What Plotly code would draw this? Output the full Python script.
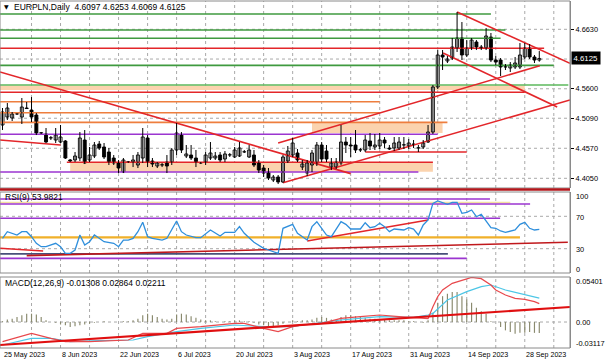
import plotly.graph_objects as go

# ---------------- data ----------------
tick_idx = [0, 12, 24, 36, 48, 60, 72, 84, 96, 108]
tick_text = ["25 May 2023", "8 Jun 2023", "22 Jun 2023", "6 Jul 2023", "20 Jul 2023",
             "3 Aug 2023", "17 Aug 2023", "31 Aug 2023", "14 Sep 2023", "28 Sep 2023"]

opens = [4.4973, 4.5111, 4.5094, 4.5163, 4.5111, 4.5267, 4.5232, 4.5146, 4.4834, 4.4817,
         4.4748, 4.4713, 4.4678, 4.4696, 4.4367, 4.4367, 4.4401, 4.4713, 4.4367, 4.4436,
         4.4644, 4.4592, 4.4505, 4.4401, 4.4315, 4.4159, 4.4332, 4.4332, 4.4280, 4.4401,
         4.4748, 4.4349, 4.4263, 4.4280, 4.4332, 4.4332, 4.4540, 4.4799, 4.4436, 4.4453,
         4.4401, 4.4315, 4.4332, 4.4401, 4.4401, 4.4453, 4.4384, 4.4453, 4.4419, 4.4436,
         4.4505, 4.4419, 4.4453, 4.4315, 4.4228, 4.4159, 4.4020, 4.4072, 4.3986, 4.4349,
         4.4453, 4.4488, 4.4245, 4.4141, 4.4280, 4.4315, 4.4626, 4.4522, 4.4245, 4.4245,
         4.4315, 4.4678, 4.4626, 4.4626, 4.4540, 4.4540, 4.4696, 4.4592, 4.4609, 4.4713,
         4.4574, 4.4574, 4.4574, 4.4626, 4.4609, 4.4644, 4.4574, 4.4592, 4.4678, 4.4851,
         4.5631, 4.6185, 4.6081, 4.6133, 4.6306, 4.6479, 4.6185, 4.6306, 4.6410, 4.6323,
         4.6306, 4.6496, 4.6098, 4.6098, 4.5977, 4.5960, 4.5977, 4.5977, 4.6150, 4.6306,
         4.6150, 4.6097]
highs = [4.5267, 4.5354, 4.5198, 4.5180, 4.5440, 4.5371, 4.5457, 4.5180, 4.4851, 4.4921,
         4.4782, 4.4921, 4.4973, 4.4713, 4.4384, 4.4505, 4.4851, 4.4886, 4.4592, 4.4678,
         4.4696, 4.4661, 4.4574, 4.4453, 4.4367, 4.4401, 4.4349, 4.4453, 4.4505, 4.4921,
         4.4799, 4.4401, 4.4332, 4.4315, 4.4453, 4.4574, 4.5007, 4.4851, 4.4626, 4.4626,
         4.4540, 4.4332, 4.4505, 4.4678, 4.4505, 4.4505, 4.4522, 4.4488, 4.4592, 4.4678,
         4.4540, 4.4626, 4.4540, 4.4367, 4.4280, 4.4228, 4.4107, 4.4107, 4.4453, 4.4609,
         4.4748, 4.4557, 4.4367, 4.4367, 4.4540, 4.4678, 4.4678, 4.4626, 4.4401, 4.4401,
         4.4973, 4.4765, 4.4765, 4.4886, 4.4574, 4.4799, 4.4834, 4.4817, 4.4834, 4.4765,
         4.4626, 4.4765, 4.4765, 4.4765, 4.4730, 4.4713, 4.4626, 4.4713, 4.4973, 4.5665,
         4.6271, 4.6271, 4.6167, 4.6479, 4.6929, 4.6756, 4.6444, 4.6479, 4.6444, 4.6358,
         4.6652, 4.6566, 4.6167, 4.6133, 4.6029, 4.6063, 4.6150, 4.6392, 4.6392, 4.6375,
         4.6185, 4.6253]
lows = [4.4886, 4.5059, 4.5042, 4.5146, 4.4990, 4.5250, 4.5025, 4.4799, 4.4817, 4.4661,
        4.4713, 4.4661, 4.4661, 4.4384, 4.4332, 4.4332, 4.4349, 4.4297, 4.4332, 4.4401,
        4.4540, 4.4384, 4.4280, 4.4280, 4.4141, 4.4141, 4.4315, 4.4245, 4.4228, 4.4315,
        4.4245, 4.4245, 4.4228, 4.4245, 4.4141, 4.4280, 4.4453, 4.4488, 4.4401, 4.4367,
        4.4245, 4.4297, 4.4280, 4.4367, 4.4367, 4.4332, 4.4332, 4.4419, 4.4401, 4.4419,
        4.4488, 4.4401, 4.4245, 4.4141, 4.4072, 4.4020, 4.3986, 4.3951, 4.3968, 4.4315,
        4.4419, 4.4332, 4.4193, 4.4090, 4.4159, 4.4263, 4.4332, 4.4332, 4.4193, 4.4211,
        4.4280, 4.4488, 4.4419, 4.4488, 4.4505, 4.4505, 4.4540, 4.4540, 4.4557, 4.4574,
        4.4540, 4.4522, 4.4540, 4.4557, 4.4557, 4.4574, 4.4505, 4.4557, 4.4661, 4.4817,
        4.5596, 4.5925, 4.6046, 4.6098, 4.6237, 4.6098, 4.6150, 4.6271, 4.6271, 4.6271,
        4.6271, 4.6063, 4.6012, 4.5821, 4.5925, 4.5890, 4.5942, 4.5942, 4.6115, 4.6115,
        4.6046, 4.6069]
closes = [4.5198, 4.5267, 4.5163, 4.5163, 4.5284, 4.5258, 4.5111, 4.4834, 4.4834, 4.4678,
          4.4748, 4.4799, 4.4765, 4.4401, 4.4349, 4.4436, 4.4748, 4.4315, 4.4453, 4.4626,
          4.4574, 4.4419, 4.4332, 4.4315, 4.4228, 4.4367, 4.4332, 4.4367, 4.4453, 4.4765,
          4.4332, 4.4297, 4.4315, 4.4280, 4.4263, 4.4540, 4.4834, 4.4540, 4.4471, 4.4401,
          4.4332, 4.4315, 4.4453, 4.4488, 4.4436, 4.4367, 4.4471, 4.4453, 4.4540, 4.4574,
          4.4505, 4.4540, 4.4280, 4.4193, 4.4141, 4.4055, 4.4072, 4.3986, 4.4419, 4.4522,
          4.4661, 4.4367, 4.4297, 4.4315, 4.4488, 4.4626, 4.4384, 4.4384, 4.4315, 4.4332,
          4.4678, 4.4626, 4.4609, 4.4540, 4.4540, 4.4713, 4.4609, 4.4626, 4.4713, 4.4661,
          4.4557, 4.4661, 4.4678, 4.4626, 4.4661, 4.4635, 4.4574, 4.4661, 4.4851, 4.5631,
          4.6185, 4.6150, 4.6115, 4.6323, 4.6479, 4.6185, 4.6306, 4.6444, 4.6323, 4.6306,
          4.6514, 4.6098, 4.6063, 4.5977, 4.5977, 4.6012, 4.6046, 4.6185, 4.6306, 4.6150,
          4.6098, 4.6125]

rsi_idx = [0, 1, 3, 4, 5, 6, 7, 8, 9, 11, 12, 13, 14, 15, 16, 17, 18, 19, 20, 21,
           23, 24, 25, 26, 27, 28, 29, 30, 31, 33, 34, 35, 36, 37, 38, 40, 41, 43, 45, 46,
           48, 49, 50, 52, 54, 55, 57, 58, 60, 61, 63, 64, 65, 66, 67, 68, 70, 71, 72, 74,
           75, 76, 77, 78, 79, 80, 81, 83, 84, 85, 86, 87, 88, 89, 90, 92, 93, 94, 95, 96,
           97, 98, 99, 101, 102, 103, 104, 106, 107, 108, 109, 110, 111]
rsi_val = [42.8, 51.0, 46.9, 51.0, 51.0, 44.8, 36.7, 32.5, 32.5, 36.7, 32.5, 24.3, 24.3, 28.4, 46.9, 34.6, 38.6, 46.9, 42.8, 38.6,
           36.7, 32.5, 40.7, 40.7, 42.8, 51.0, 62.6, 44.8, 42.8, 40.7, 42.8, 53.1, 64.2, 51.0, 46.9, 43.6, 43.6, 53.1, 45.7, 50.2,
           50.2, 57.2, 49.0, 37.9, 30.5, 28.4, 24.3, 55.2, 60.1, 49.0, 40.7, 57.2, 63.3, 55.2, 46.9, 44.8, 63.3, 60.1, 54.3, 54.3,
           62.1, 55.9, 57.2, 61.4, 57.2, 51.0, 54.3, 53.1, 55.9, 54.3, 46.9, 59.3, 65.4, 86.0, 88.9, 84.8, 87.3, 87.3, 73.7, 74.9,
           77.8, 69.5, 72.5, 55.9, 55.2, 51.9, 50.2, 53.1, 60.1, 62.6, 55.2, 53.1, 53.98]

macd_hist = [0.001, 0.003, 0.004, 0.006, 0.008, 0.010, 0.010, 0.009, 0.006, 0.002,
             0.000, -0.001, -0.003, -0.004, -0.006, -0.005, -0.004, -0.003, -0.002, -0.001,
             0.000, 0.001, 0.000, 0.000, 0.000, 0.001, 0.001, 0.002, 0.004, 0.008,
             0.010, 0.008, 0.006, 0.004, 0.003, 0.004, 0.009, 0.010, 0.009, 0.007,
             0.005, 0.003, 0.002, 0.002, 0.001, 0.000, 0.001, 0.001, 0.002, 0.002,
             0.001, 0.001, -0.001, -0.003, -0.004, -0.005, -0.005, -0.004, -0.002, 0.000,
             0.002, 0.001, 0.002, 0.002, 0.003, 0.005, 0.006, 0.005, 0.003, 0.002,
             0.006, 0.008, 0.008, 0.007, 0.006, 0.005, 0.004, 0.004, 0.004, 0.003,
             0.002, 0.002, 0.002, 0.002, 0.001, 0.001, 0.000, -0.001, 0.002, 0.011,
             0.023, 0.031, 0.034, 0.036, 0.036, 0.031, 0.027, 0.023, 0.017, 0.013,
             0.010, 0.001, 0.000, -0.006, -0.010, -0.012, -0.014, -0.013, -0.013, -0.012,
             -0.013, -0.01308]
macd_idx = [0, 6, 10, 13, 18, 26, 29, 34, 36, 41, 48, 50, 54, 57, 60, 62, 66, 70, 74, 78,
            82, 85, 88, 89, 90, 91, 93, 95, 97, 99, 101, 102, 104, 106, 108, 110, 111]
macd_val = [-0.0236, -0.0136, -0.0196, -0.0236, -0.0236, -0.0216, -0.0136, -0.0136, -0.0076, -0.0056,
            -0.0016, -0.0016, -0.0076, -0.0116, -0.0056, -0.0036, -0.0016, 0.0044, 0.0064, 0.0084,
            0.0064, 0.0052, 0.0040, 0.0184, 0.0304, 0.0384, 0.0464, 0.0500, 0.0535, 0.0520,
            0.0444, 0.0384, 0.0324, 0.0284, 0.0272, 0.0244, 0.02211]
signal_idx = [0, 6, 10, 14, 20, 27, 30, 36, 41, 48, 54, 60, 62, 70, 78, 85, 88, 89, 92, 96,
              99, 101, 104, 107, 110, 111]
signal_val = [-0.0276, -0.0196, -0.0196, -0.0236, -0.0224, -0.0216, -0.0176, -0.0116, -0.0076, -0.0036,
              -0.0056, -0.0056, -0.0036, 0.0024, 0.0064, 0.0056, 0.0084, 0.0104, 0.0264, 0.0364,
              0.0424, 0.0444, 0.0384, 0.0344, 0.0304, 0.02864]

# chart objects drawn on the price window
hl_price = [4.6895, 4.6618, 4.6474, 4.6301, 4.6006, 4.5665, 4.5539, 4.5376, 4.5186, 4.5019,
            4.4812, 4.4505, 4.4327, 4.4159]
hl_start = [-0.52, -0.52, -0.52, -0.52, -0.52, -0.52, -0.52, -0.52, -0.52, -0.52,
            -0.52, 75, 13.3, -0.52]
hl_end = [101, 104, 103, 112, 114, 117, 108, 78, 78, 92, 90, 96, 89, 86]
hl_kind = ["green", "green", "green", "red", "green", "lgreen", "red", "orange", "orange", "orange",
           "purple", "red", "red", "purple"]

zone_lo = [4.5579, 4.4834, 4.4164]
zone_hi = [4.5657, 4.5016, 4.4327]
zone_start = [-0.52, 64, 14]
zone_end = [108, 91, 89]

tl_x0 = [-0.52, -0.52, 57, 91.1, 94, 58]
tl_p0 = [4.5890, 4.4713, 4.4661, 4.6219, 4.6929, 4.3974]
tl_x1 = [72, 12, 111.1, 114.7, 117.35, 117.35]
tl_p1 = [4.4131, 4.4626, 4.5999, 4.5284, 4.6041, 4.5406]

# objects on the RSI window
rsi_lvl = [87.0, 91.4, 85.2, 67.5, 44.1, 23.5, 18.1]
rsi_lvl_end = [105, 100.8, 109.1, 102.9, 107, 92.1, 96]
rsi_lvl_kind = ["wheat", "purple", "purple", "purple", "gold", "navy", "purple"]
rsi_tl_x0 = [-0.52, 5.0, 63]
rsi_tl_v0 = [30.5, 21.4, 39.5]
rsi_tl_x1 = [8.4, 116.9, 88]
rsi_tl_v1 = [27.2, 37.9, 65.4]
rsi_tl_kind = ["red", "dred", "red"]

# objects on the MACD window
macd_tl = [(-0.52, -0.0276), (117.35, 0.0180)]

# ---------------- style ----------------
W, H = 605, 363
ML, MR, MT, MB = 0, 35, 0, 15
PH = H - MT - MB  # 348
FONT = "Liberation Sans, Arial, sans-serif"
FS = 7.4
FT = 8.5   # indicator / symbol titles

def yp(py):
    return 1 - py / PH

main_dom = [yp(188), yp(1)]
rsi_dom = [yp(273), yp(192)]
macd_dom = [0, yp(277)]
XR = [-0.517, 117.35]

colors = {"green": "#3f9a3f", "lgreen": "#5cb85c", "red": "#e3262a", "orange": "#ee7e3e",
          "purple": "#9b35d0", "wheat": "#f3dfa0", "gold": "#f0b02a", "navy": "#48507a",
          "dred": "#c0181c"}
widths = {"green": 1.6, "lgreen": 1.6, "red": 1.6, "orange": 1.6, "purple": 1.6,
          "wheat": 1.6, "gold": 2.2, "navy": 1.8, "dred": 1.6}

fig = go.Figure()
shapes = []

# dotted grids
grid_col = "#a9a9a9"
for k in range(1, 20):
    for dom in (main_dom, rsi_dom, macd_dom):
        shapes.append(dict(type="line", xref="x", yref="paper", x0=6 * k, x1=6 * k,
                           y0=dom[0], y1=dom[1], layer="below",
                           line=dict(color=grid_col, width=1, dash="dot")))
for p in [4.6630, 4.6115, 4.5600, 4.5090, 4.4570, 4.4050]:
    shapes.append(dict(type="line", xref="paper", yref="y", x0=0, x1=1, y0=p, y1=p, layer="below",
                       line=dict(color=grid_col, width=1, dash="dot")))
for v in [70, 30]:
    shapes.append(dict(type="line", xref="paper", yref="y2", x0=0, x1=1, y0=v, y1=v, layer="below",
                       line=dict(color=grid_col, width=1, dash="dot")))
shapes.append(dict(type="line", xref="paper", yref="y3", x0=0, x1=1, y0=0, y1=0, layer="below",
                   line=dict(color=grid_col, width=1, dash="dot")))

# zones
for lo, hi, s, e in zip(zone_lo, zone_hi, zone_start, zone_end):
    shapes.append(dict(type="rect", xref="x", yref="y", x0=s, x1=e, y0=lo, y1=hi, layer="below",
                       fillcolor="#fbd3ae", line=dict(width=0)))

# panel frames
for dom in (main_dom, rsi_dom, macd_dom):
    shapes.append(dict(type="rect", xref="paper", yref="paper", x0=0, x1=1, y0=dom[0], y1=dom[1],
                       layer="above", line=dict(color="#8a8a8a", width=1)))
# dark red separator line under price window
shapes.append(dict(type="line", xref="paper", yref="paper", x0=0, x1=1, y0=yp(189.5), y1=yp(189.5),
                   layer="above", line=dict(color="#b3161b", width=2.5)))

def add_segments(xs0, ys0, xs1, ys1, kinds, yaxis):
    for kind in dict.fromkeys(kinds):
        xx, yy = [], []
        for a, b, c, d, k in zip(xs0, ys0, xs1, ys1, kinds):
            if k == kind:
                xx += [a, c, None]
                yy += [b, d, None]
        fig.add_trace(go.Scatter(x=xx, y=yy, mode="lines", yaxis=yaxis, hoverinfo="skip",
                                 line=dict(color=colors[kind], width=widths[kind])))

# horizontal objects on price window
add_segments(hl_start, hl_price, hl_end, hl_price, hl_kind, "y")
# trendlines on price window
add_segments(tl_x0, tl_p0, tl_x1, tl_p1, ["red"] * len(tl_x0), "y")

# candles
n = len(opens)
wx, wy = [], []
for i in range(n):
    wx += [i, i, None]
    wy += [lows[i], highs[i], None]
fig.add_trace(go.Scatter(x=wx, y=wy, mode="lines", yaxis="y", hoverinfo="skip",
                         line=dict(color="black", width=1)))
MINB = 0.0005
for bull in (True, False):
    ids = [i for i in range(n) if (closes[i] >= opens[i]) == bull]
    fig.add_trace(go.Bar(
        x=ids, base=[min(opens[i], closes[i]) for i in ids],
        y=[max(abs(closes[i] - opens[i]), MINB) for i in ids],
        width=0.62, yaxis="y", hoverinfo="skip",
        marker=dict(color="white" if bull else "black", line=dict(color="black", width=0.9))))

# RSI window
add_segments([-0.52] * len(rsi_lvl), rsi_lvl, rsi_lvl_end, rsi_lvl, rsi_lvl_kind, "y2")
add_segments(rsi_tl_x0, rsi_tl_v0, rsi_tl_x1, rsi_tl_v1, rsi_tl_kind, "y2")
fig.add_trace(go.Scatter(x=rsi_idx, y=rsi_val, mode="lines", yaxis="y2", hoverinfo="skip",
                         line=dict(color="#2f8fdc", width=1.3)))

# MACD window
fig.add_trace(go.Bar(x=list(range(len(macd_hist))), y=macd_hist, width=0.24, yaxis="y3",
                     hoverinfo="skip", marker=dict(color="#8a8a6e", line=dict(width=0))))
fig.add_trace(go.Scatter(x=signal_idx, y=signal_val, mode="lines", yaxis="y3", hoverinfo="skip",
                         line=dict(color="#4cc6e6", width=1.2)))
fig.add_trace(go.Scatter(x=macd_idx, y=macd_val, mode="lines", yaxis="y3", hoverinfo="skip",
                         line=dict(color="#e8484c", width=1.2)))
fig.add_trace(go.Scatter(x=[p[0] for p in macd_tl], y=[p[1] for p in macd_tl], mode="lines",
                         yaxis="y3", hoverinfo="skip", line=dict(color="#e00f10", width=2.2)))

# ---------------- annotations ----------------
ann = []
tf = dict(family=FONT, size=FS, color="black")
ttf = dict(family=FONT, size=FT, color="black")
ann.append(dict(xref="paper", yref="paper", x=6 / 570, y=yp(6.5), text="▼", showarrow=False,
                font=dict(family="DejaVu Sans", size=6, color="black"), xanchor="center", yanchor="middle"))
ann.append(dict(xref="paper", yref="paper", x=12 / 570, y=yp(7), showarrow=False, font=ttf,
                text="EURPLN,Daily  4.6097 4.6253 4.6069 4.6125", xanchor="left", yanchor="middle"))
ann.append(dict(xref="paper", yref="paper", x=3 / 570, y=yp(196.7), showarrow=False, font=ttf,
                text="RSI(9) 53.9821", xanchor="left", yanchor="middle"))
ann.append(dict(xref="paper", yref="paper", x=3 / 570, y=yp(283.3), showarrow=False, font=ttf,
                text="MACD(12,26,9) -0.01308 0.02864 0.02211", xanchor="left", yanchor="middle"))
for txt, py in [("100", 196.7), ("70", 217.3), ("30", 249.3), ("0", 269.5),
                ("0.05401", 281.7), ("0.00", 322.3), ("-0.03117", 343.3)]:
    ann.append(dict(xref="paper", yref="paper", x=1, xshift=4, y=yp(py), text=txt, showarrow=False,
                    font=tf, xanchor="left", yanchor="middle"))
for ti, tt in zip(tick_idx, tick_text):
    ann.append(dict(xref="x", yref="paper", x=ti, xshift=-1, y=yp(354.5), text=tt, showarrow=False,
                    font=dict(family=FONT, size=7.1, color="black"), xanchor="left", yanchor="middle"))
ann.append(dict(xref="paper", yref="y", x=1, xshift=1, y=closes[-1], text="4.6125", showarrow=False,
                font=dict(family=FONT, size=FS + 0.4, color="white"), bgcolor="black",
                xanchor="left", yanchor="middle", borderpad=1.5))

fig.update_layout(
    width=W, height=H, margin=dict(l=ML, r=MR, t=MT, b=MB),
    paper_bgcolor="white", plot_bgcolor="white", showlegend=False, barmode="overlay",
    shapes=shapes, annotations=ann, font=dict(family=FONT, size=FS, color="black"),
    xaxis=dict(range=XR, showgrid=False, zeroline=False, showticklabels=False, showline=False,
               ticks="", fixedrange=True),
    yaxis=dict(domain=main_dom, range=[4.3882, 4.7120], side="right", showgrid=False, zeroline=False,
               tickvals=[4.6630, 4.5600, 4.5090, 4.4570, 4.4050],
               ticktext=["4.6630", "4.5600", "4.5090", "4.4570", "4.4050"],
               ticks="outside", ticklen=3, tickcolor="black", showline=True, linecolor="#8a8a8a",
               tickfont=tf, anchor="x"),
    yaxis2=dict(domain=rsi_dom, range=[0, 100], side="right", showgrid=False, zeroline=False,
                showticklabels=False, ticks="", showline=True, linecolor="#8a8a8a", anchor="x"),
    yaxis3=dict(domain=macd_dom, range=[-0.03117, 0.05401], side="right", showgrid=False,
                zeroline=False, showticklabels=False, ticks="", showline=True, linecolor="#8a8a8a",
                anchor="x"),
)

fig.write_html("out.html", config={"displayModeBar": False, "staticPlot": True},
               post_script="document.body.style.margin='0';document.body.style.overflow='hidden';")
